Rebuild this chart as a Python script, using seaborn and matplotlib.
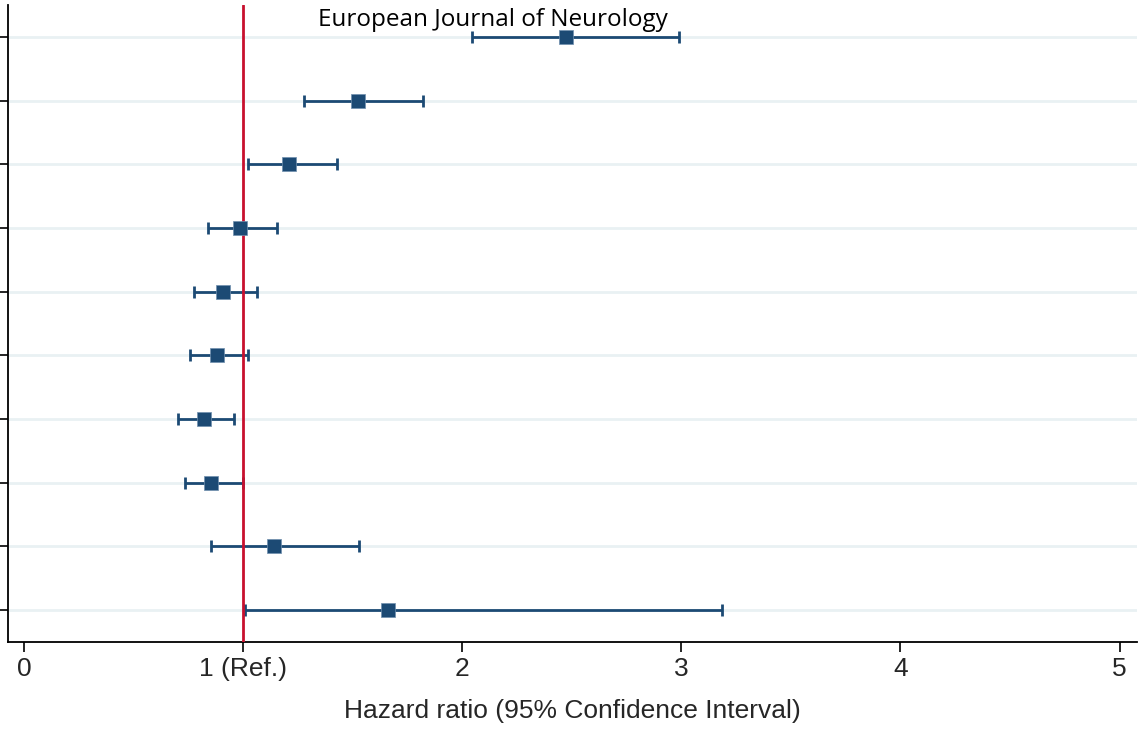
import matplotlib
matplotlib.use("Agg")
import matplotlib.pyplot as plt
import seaborn as sns
import pandas as pd
import numpy as np

rows = [1, 2, 3, 4, 5, 6, 7, 8, 9, 10]
hr = [2.475, 1.525, 1.21, 0.986, 0.909, 0.881, 0.822, 0.854, 1.142, 1.662]
ci_low = [2.046, 1.279, 1.023, 0.840, 0.776, 0.758, 0.703, 0.735, 0.854, 1.009]
ci_high = [2.991, 1.822, 1.429, 1.155, 1.064, 1.023, 0.959, 1.000, 1.530, 3.187]
xticks = [0, 1, 2, 3, 4, 5]
xticklabels = ["0", "1 (Ref.)", "2", "3", "4", "5"]

df = pd.DataFrame({"row": rows, "hr": hr, "lo": ci_low, "hi": ci_high})

sns.set_theme(style="white")
plt.rcParams["font.family"] = ["Liberation Sans", "DejaVu Sans"]

fig = plt.figure(figsize=(11.44, 7.35), dpi=100)
ax = fig.add_axes([0.007, 0.127, 0.987, 0.866])

navy = "#1c4a74"
for y in rows:
    ax.axhline(y, color="#e9f1f3", lw=2, zorder=0)

ax.errorbar(df["hr"], df["row"],
            xerr=[df["hr"] - df["lo"], df["hi"] - df["hr"]],
            fmt="none", ecolor=navy, elinewidth=2, capsize=4.3, capthick=2, zorder=2)
ax.axvline(1, color="#c8102e", lw=2, zorder=3)
sns.scatterplot(data=df, x="hr", y="row", marker="s", s=105, color=navy,
                edgecolor="#6f8fae", linewidth=0.5, ax=ax, zorder=4)

ax.set_xlim(-0.073, 5.08)
ax.set_ylim(10.5, 0.5)
ax.set_xticks(xticks)
ax.set_xticklabels(xticklabels, fontsize=19)
ax.set_yticks(rows)
ax.set_yticklabels([])
ax.set_ylabel("")
ax.set_xlabel("Hazard ratio (95% Confidence Interval)", fontsize=19, labelpad=13)
for s in ["top", "right"]:
    ax.spines[s].set_visible(False)
for s in ["left", "bottom"]:
    ax.spines[s].set_color("black")
    ax.spines[s].set_linewidth(1.3)
ax.tick_params(axis="both", which="both", direction="out", length=7, width=1.2,
               color="black", left=True, bottom=True, pad=4)

ax.text(0.429, 0.976, "European Journal of Neurology", transform=ax.transAxes,
        ha="center", va="center", fontsize=17.5, family=["Open Sans", "DejaVu Sans"],
        color="black", zorder=5)

fig.savefig("out.png", dpi=100)
